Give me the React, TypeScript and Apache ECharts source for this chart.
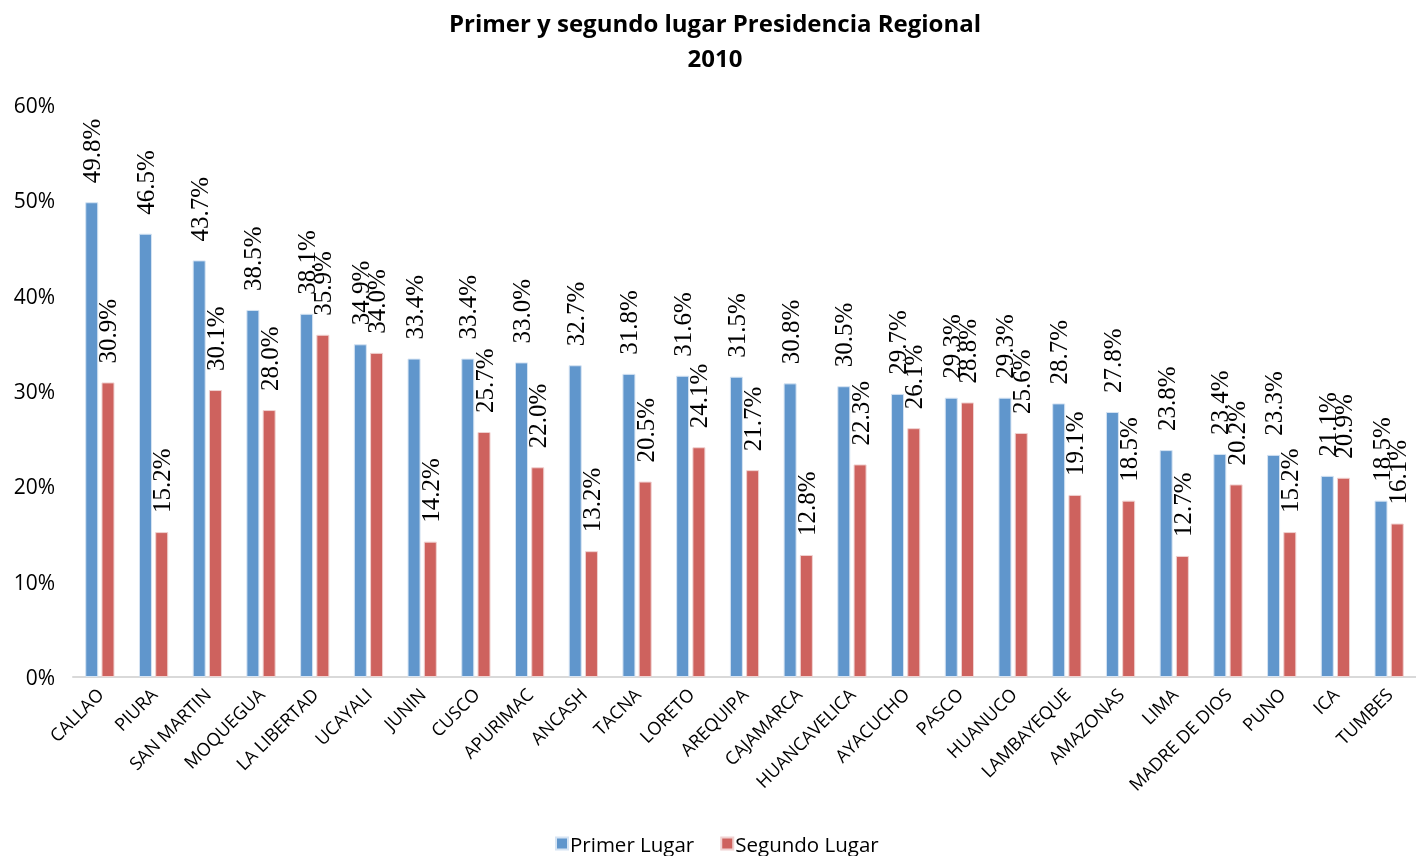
import React, { useEffect, useRef } from "react";
import * as echarts from "echarts";

const categories = ["CALLAO", "PIURA", "SAN MARTIN", "MOQUEGUA", "LA LIBERTAD", "UCAYALI", "JUNIN", "CUSCO", "APURIMAC", "ANCASH", "TACNA", "LORETO", "AREQUIPA", "CAJAMARCA", "HUANCAVELICA", "AYACUCHO", "PASCO", "HUANUCO", "LAMBAYEQUE", "AMAZONAS", "LIMA", "MADRE DE DIOS", "PUNO", "ICA", "TUMBES"];
const primerLugar = [49.8, 46.5, 43.7, 38.5, 38.1, 34.9, 33.4, 33.4, 33.0, 32.7, 31.8, 31.6, 31.5, 30.8, 30.5, 29.7, 29.3, 29.3, 28.7, 27.8, 23.8, 23.4, 23.3, 21.1, 18.5];
const segundoLugar = [30.9, 15.2, 30.1, 28.0, 35.9, 34.0, 14.2, 25.7, 22.0, 13.2, 20.5, 24.1, 21.7, 12.8, 22.3, 26.1, 28.8, 25.6, 19.1, 18.5, 12.7, 20.2, 15.2, 20.9, 16.1];
const yTicks = [0, 10, 20, 30, 40, 50, 60];

const FONT = "'Open Sans', 'Noto Sans', sans-serif";
const SERIF = "'Liberation Serif', 'DejaVu Serif', serif";

export default function App() {
  const ref = useRef<HTMLDivElement>(null);
  useEffect(() => {
    if (!ref.current) return;
    const chart = echarts.init(ref.current, null, { renderer: "svg" });
    const label = {
      show: true,
      position: "top" as const,
      rotate: 90,
      align: "left" as const,
      verticalAlign: "middle" as const,
      distance: 19,
      fontFamily: SERIF,
      fontSize: 25,
      color: "#000",
      formatter: (p: any) => p.value.toFixed(1) + "%",
    };
    chart.setOption({
      animation: false,
      textStyle: { fontFamily: FONT },
      title: {
        text: "Primer y segundo lugar Presidencia Regional\n2010",
        left: 710,
        textAlign: "center",
        top: 0,
        textStyle: { fontFamily: FONT, fontSize: 24, fontWeight: "bold", color: "#000", lineHeight: 35 },
      },
      legend: {
        bottom: -3,
        left: 550,
        itemWidth: 12,
        itemHeight: 12,
        itemGap: 26,
        icon: "rect",
        textStyle: { fontFamily: FONT, fontSize: 20.5, color: "#000", padding: [0, 0, 0, -3] },
        data: ["Primer Lugar", "Segundo Lugar"],
      },
      grid: { left: 73, top: 105, width: 1350, bottom: 179, containLabel: false },
      xAxis: {
        type: "category",
        data: categories,
        axisLine: { lineStyle: { color: "#D9D9D9", width: 2 } },
        axisTick: { show: false },
        axisLabel: { rotate: 45, interval: 0, fontFamily: FONT, fontSize: 18, color: "#000", margin: 14 },
      },
      yAxis: {
        type: "value",
        min: yTicks[0],
        max: yTicks[yTicks.length - 1],
        interval: 10,
        splitLine: { show: false },
        axisLine: { show: false },
        axisTick: { show: false },
        axisLabel: { formatter: "{value}%", fontFamily: FONT, fontSize: 21, color: "#000", margin: 18 },
      },
      series: [
        {
          name: "Primer Lugar",
          type: "bar",
          data: primerLugar,
          barWidth: 13,
          barGap: "25%",
          itemStyle: { color: "#6096CC", borderColor: "#D6E4F3", borderWidth: 1 },
          label,
        },
        {
          name: "Segundo Lugar",
          type: "bar",
          data: segundoLugar,
          barWidth: 13,
          itemStyle: { color: "#CE625E", borderColor: "#F0D2D1", borderWidth: 1 },
          label,
        },
      ],
    });
    return () => chart.dispose();
  }, []);
  return <div ref={ref} style={{ position: "fixed", left: 0, top: 0, width: 1416, height: 856 }} />;
}
